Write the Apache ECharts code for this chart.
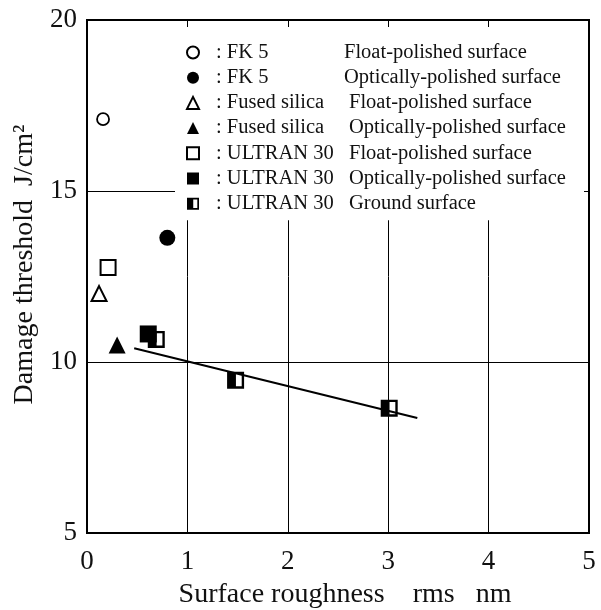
<!DOCTYPE html>
<html>
<head>
<meta charset="utf-8">
<title>Damage threshold vs surface roughness</title>
<script src="https://cdn.jsdelivr.net/npm/echarts@6/dist/echarts.min.js"></script>
<style>
  html, body { margin: 0; padding: 0; background: #fff; }
  #chart { width: 601px; height: 610px; }
</style>
</head>
<body>
<div id="chart"></div>
<script>
// data
const materials = ['FK 5', 'FK 5', 'Fused silica', 'Fused silica', 'ULTRAN 30', 'ULTRAN 30', 'ULTRAN 30']
const surfaces = [
  'Float-polished surface',
  'Optically-polished surface',
  'Float-polished surface',
  'Optically-polished surface',
  'Float-polished surface',
  'Optically-polished surface',
  'Ground surface'
]
const roughness = [[0.16], [0.80], [0.12], [0.30], [0.21], [0.61], [0.69, 1.48, 3.01]]
const threshold = [[17.1], [13.63], [12.0], [10.5], [12.76], [10.82], [10.66, 9.47, 8.65]]
const fitX = [0.47, 3.29]
const fitY = [10.4, 8.36]
const xTicks = [0, 1, 2, 3, 4, 5]
const yTicks = [5, 10, 15, 20]

const chart = echarts.init(document.getElementById('chart'))

const font = 'Liberation Serif'
const groundPath = 'path://M0 0H10V10H0Z M5.2 1.4V8.6H8.6V1.4Z'

// marker look for each series, same order as the arrays above
const looks = [
  { symbol: 'circle', size: 12, fill: '#fff', border: 1.8 },
  { symbol: 'circle', size: 16, fill: '#000', border: 0 },
  { symbol: 'triangle', size: 15, fill: '#fff', border: 2 },
  { symbol: 'triangle', size: 17, fill: '#000', border: 0 },
  { symbol: 'rect', size: 15, fill: '#fff', border: 2 },
  { symbol: 'rect', size: 17, fill: '#000', border: 0 },
  { symbol: groundPath, size: 17, fill: '#000', border: 0 }
]

const names = materials.map((m, i) => m + ' ' + surfaces[i])

const series = [{
  name: 'fit',
  type: 'line',
  data: fitX.map((x, i) => [x, fitY[i]]),
  showSymbol: false,
  lineStyle: { color: '#000', width: 2 },
  silent: true
}, {
  // white backing under the half-filled squares
  name: 'ground-bg',
  type: 'scatter',
  data: roughness[6].map((x, i) => [x, threshold[6][i]]),
  symbol: 'rect',
  symbolSize: 16,
  itemStyle: { color: '#fff' },
  silent: true
}]

names.forEach((name, i) => {
  series.push({
    name: name,
    type: 'scatter',
    data: roughness[i].map((x, k) => [x, threshold[i][k]]),
    symbol: looks[i].symbol,
    symbolSize: looks[i].size,
    itemStyle: {
      color: looks[i].fill,
      borderColor: '#000',
      borderWidth: looks[i].border,
      opacity: 1
    },
    z: 3
  })
})

const option = {
  animation: false,
  backgroundColor: '#fff',
  grid: {
    left: 87,
    top: 20,
    width: 502,
    height: 513,
    show: true,
    borderColor: '#000',
    borderWidth: 2,
    outerBoundsMode: 'none'
  },
  legend: {
    data: names.map((n, i) => i === 6 ? { name: n, icon: groundPath } : n),
    orient: 'vertical',
    left: 175,
    top: 27,
    padding: [15, 5, 6, 11],
    backgroundColor: '#fff',
    itemWidth: 12,
    itemHeight: 12,
    itemGap: 4.2,
    selectedMode: false,
    formatter: name => {
      const i = names.indexOf(name)
      const col = materials[i] === 'FK 5' ? 'a' : 'c'
      const tail = materials[i] === 'FK 5' ? 'b' : 'd'
      return '{g| }{' + col + '|: ' + materials[i] + '}{' + tail + '|' + surfaces[i] + '}'
    },
    textStyle: {
      fontFamily: font,
      fontSize: 20.5,
      color: '#111',
      lineHeight: 20,
      rich: {
        g: { width: 12, fontFamily: font, fontSize: 20.5, lineHeight: 20 },
        a: { width: 128, fontFamily: font, fontSize: 20.5, lineHeight: 20, color: '#111' },
        b: { width: 235, fontFamily: font, fontSize: 20.5, lineHeight: 20, color: '#111' },
        c: { width: 133, fontFamily: font, fontSize: 20.5, lineHeight: 20, color: '#111' },
        d: { width: 230, fontFamily: font, fontSize: 20.5, lineHeight: 20, color: '#111' }
      }
    }
  },
  xAxis: {
    type: 'value',
    min: xTicks[0],
    max: xTicks[xTicks.length - 1],
    interval: 1,
    name: 'Surface roughness    rms   nm',
    nameLocation: 'middle',
    nameGap: 48,
    nameTextStyle: {
      fontFamily: font,
      fontSize: 28,
      color: '#111',
      padding: [0, 0, 0, 14]
    },
    axisLine: { show: false },
    axisTick: { show: false },
    splitLine: { show: true, lineStyle: { color: '#000', width: 1 } },
    axisLabel: {
      margin: 15,
      fontFamily: font,
      fontSize: 27,
      color: '#111',
      showMinLabel: true,
      showMaxLabel: true
    }
  },
  yAxis: {
    type: 'value',
    min: yTicks[0],
    max: yTicks[yTicks.length - 1],
    interval: 5,
    name: 'Damage threshold  J/cm\u00b2',
    nameLocation: 'middle',
    nameGap: 43,
    nameRotate: 90,
    nameTextStyle: {
      fontFamily: font,
      fontSize: 28,
      color: '#111',
      padding: [0, 0, 0, 24]
    },
    axisLine: { show: false },
    axisTick: { show: false },
    splitLine: { show: true, lineStyle: { color: '#000', width: 1 } },
    axisLabel: {
      margin: 10,
      fontFamily: font,
      fontSize: 27,
      color: '#111'
    }
  },
  series: series
}

chart.setOption(option)
</script>
</body>
</html>
